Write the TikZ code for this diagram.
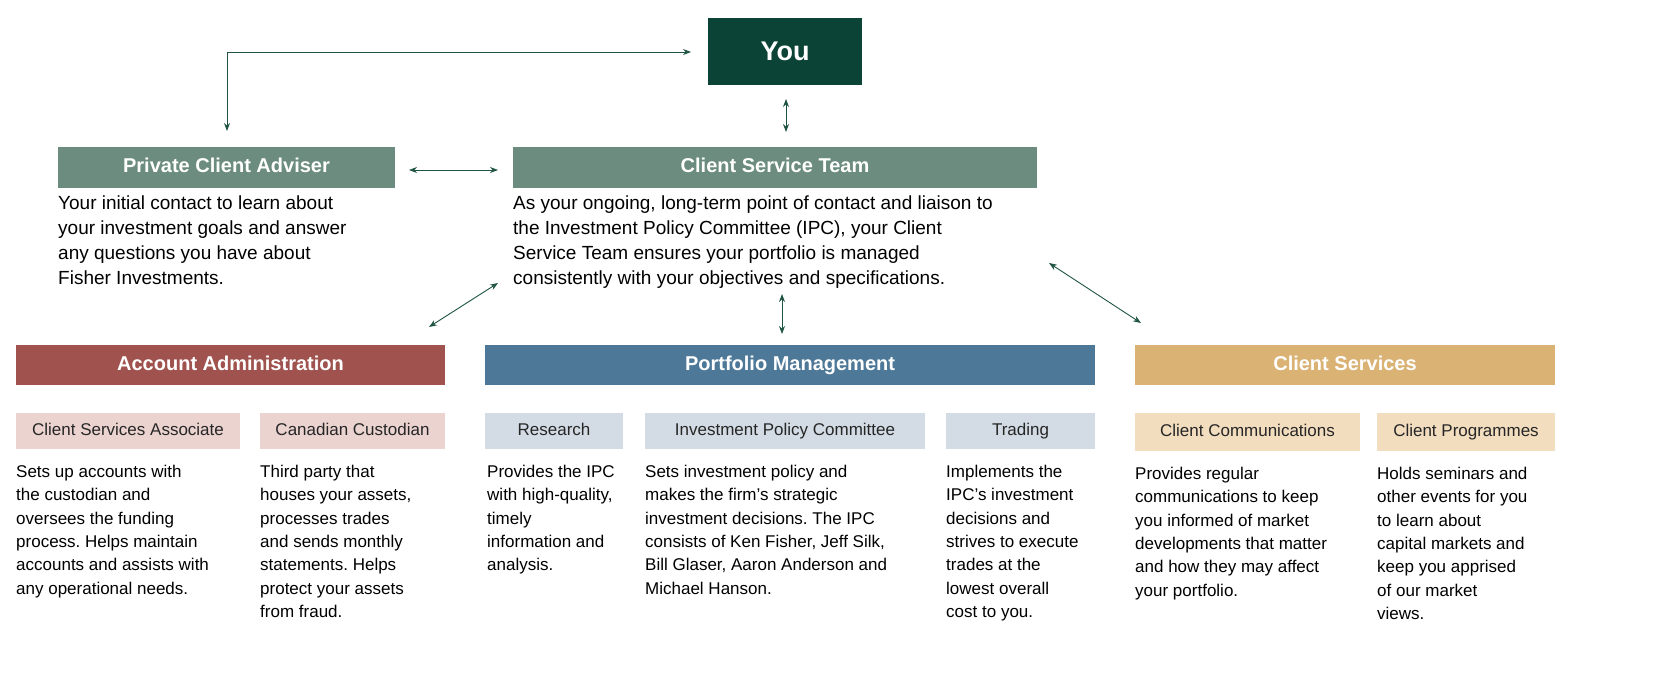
\documentclass[tikz,border=0pt]{standalone}
\usepackage{fontspec}
\setmainfont{Liberation Sans}
\usetikzlibrary{arrows.meta}
\frenchspacing
\definecolor{dkg}{HTML}{0B4437}
\definecolor{mg}{HTML}{6B8C7F}
\definecolor{red1}{HTML}{A0524E}
\definecolor{blu1}{HTML}{4E7898}
\definecolor{gold1}{HTML}{D9B274}
\definecolor{red2}{HTML}{EBD3D0}
\definecolor{blu2}{HTML}{D3DCE4}
\definecolor{gold2}{HTML}{F2DDBF}
\definecolor{arr}{HTML}{1F5444}
\tikzset{
 bar/.style={inner sep=0,text=white,text height=14pt,text depth=4pt,font=\fontsize{20}{24}\selectfont\bfseries},
 sub/.style={inner sep=0,text=black!85,text height=12pt,text depth=3.5pt,font=\fontsize{17}{20}\selectfont},
 body/.style={inner sep=0,anchor=north west,align=left,text=black,font=\fontsize{19}{25}\selectfont},
 sbody/.style={inner sep=0,anchor=north west,align=left,text=black,font=\fontsize{17}{23.3}\selectfont},
 con/.style={arr,line width=0.9pt,{Stealth[length=8pt,width=6pt]}-{Stealth[length=8pt,width=6pt]}}
}
\begin{document}
\begin{tikzpicture}[x=1pt,y=-1pt]
\useasboundingbox[fill=white] (0,0) rectangle (1657,680);
% top boxes
\fill[dkg] (708,18) rectangle (862,85);
\node[bar,font=\fontsize{27}{30}\selectfont\bfseries,text height=19pt,text depth=1pt] (you) at (785,51.5) {You};
\fill[mg] (58,147) rectangle (395,188);
\node[bar] (pca) at (226.5,167.5) {Private Client Adviser};
\fill[mg] (513,147) rectangle (1037,188);
\node[bar] (cst) at (775,167.5) {Client Service Team};
\node[body] (pcat) at (58,196) {Your initial contact to learn about\\your investment goals and answer\\any questions you have about\\Fisher Investments.};
\node[body] (cstt) at (513,196) {As your ongoing, long-term point of contact and liaison to\\the Investment Policy Committee (IPC), your Client\\Service Team ensures your portfolio is managed\\consistently with your objectives and specifications.};
% division bars
\fill[red1] (16,345) rectangle (445,385);
\node[bar] (aa) at (230.5,365) {Account Administration};
\fill[blu1] (485,345) rectangle (1095,385);
\node[bar] (pm) at (790,365) {Portfolio Management};
\fill[gold1] (1135,345) rectangle (1555,385);
\node[bar] (cs) at (1345,365) {Client Services};
% sub boxes
\fill[red2] (16,413) rectangle (240,449); \node[sub] (csa) at (128,431) {Client Services Associate};
\fill[red2] (260,413) rectangle (445,449); \node[sub] (cc) at (352.5,431) {Canadian Custodian};
\fill[blu2] (485,413) rectangle (623,449); \node[sub] (res) at (554,431) {Research};
\fill[blu2] (645,413) rectangle (925,449); \node[sub] (ipc) at (785,431) {Investment Policy Committee};
\fill[blu2] (946,413) rectangle (1095,449); \node[sub] (tr) at (1020.5,431) {Trading};
\fill[gold2] (1135,413) rectangle (1360,451); \node[sub] (ccom) at (1247.5,432) {Client Communications};
\fill[gold2] (1377,413) rectangle (1555,451); \node[sub] (cp) at (1466,432) {Client Programmes};
% sub text
\node[sbody] (t1) at (16,465) {Sets up accounts with\\the custodian and\\oversees the funding\\process. Helps maintain\\accounts and assists with\\any operational needs.};
\node[sbody] (t2) at (260,465) {Third party that\\houses your assets,\\processes trades\\and sends monthly\\statements. Helps\\protect your assets\\from fraud.};
\node[sbody] (t3) at (487,465) {Provides the IPC\\with high-quality,\\timely\\information and\\analysis.};
\node[sbody] (t4) at (645,465) {Sets investment policy and\\makes the firm’s strategic\\investment decisions. The IPC\\consists of Ken Fisher, Jeff Silk,\\Bill Glaser, Aaron Anderson and\\Michael Hanson.};
\node[sbody] (t5) at (946,465) {Implements the\\IPC’s investment\\decisions and\\strives to execute\\trades at the\\lowest overall\\cost to you.};
\node[sbody] (t6) at (1135,467) {Provides regular\\communications to keep\\you informed of market\\developments that matter\\and how they may affect\\your portfolio.};
\node[sbody] (t7) at (1377,467) {Holds seminars and\\other events for you\\to learn about\\capital markets and\\keep you apprised\\of our market\\views.};
% connectors
\coordinate (a1) at (227,131); \coordinate (a2) at (691,52);
\draw[con] (a1) |- (a2);
\coordinate (b1) at (786,99); \coordinate (b2) at (786,132);
\draw[con] (b1) -- (b2);
\coordinate (c1) at (409,170); \coordinate (c2) at (498,170);
\draw[con] (c1) -- (c2);
\coordinate (d1) at (429,327); \coordinate (d2) at (498,283);
\draw[con] (d1) -- (d2);
\coordinate (e1) at (782,294); \coordinate (e2) at (782,334);
\draw[con] (e1) -- (e2);
\coordinate (f1) at (1049,263); \coordinate (f2) at (1141,323);
\draw[con] (f1) -- (f2);
\end{tikzpicture}
\end{document}
